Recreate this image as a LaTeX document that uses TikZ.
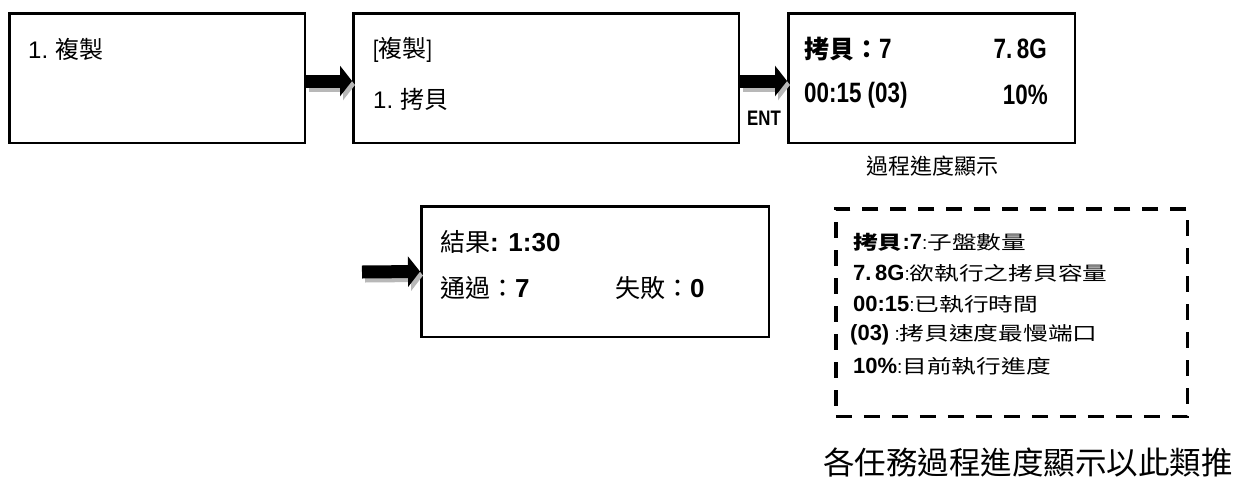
\documentclass[tikz,border=0pt]{standalone}
\usepackage{fontspec}
\usepackage{graphicx}
\setmainfont{Noto Sans CJK TC}
\newfontfamily\latn[FakeStretch=0.8]{Liberation Sans}
\newfontfamily\latr{Liberation Sans}
\newcommand\widecjk[1]{\scalebox{1.3}[1]{#1}}
\usetikzlibrary{arrows.meta,calc}
\tikzset{
  screen/.style={draw, line width=2.5pt, minimum height=129.5pt, inner sep=0pt},
  boxtxt/.style={anchor=west, inner sep=0pt, font=\fontsize{24}{24}\selectfont},
  boldtxt/.style={inner sep=0pt, font=\bfseries\fontsize{25}{25}\selectfont},
  notetxt/.style={anchor=west, inner sep=0pt, font=\fontsize{19}{19}\selectfont},
  dashbox/.style={draw, line width=3.5pt, dash pattern=on 16pt off 12pt, inner sep=0pt},
  bigarrow/.style={line width=13pt, -{Triangle[length=12pt,width=30pt]}},
  arrowshadow/.style={bigarrow, draw=black!28, transform canvas={shift={(3,4)}}},
}
\newcommand\nl[1]{{\latr\bfseries\fontsize{22}{22}\selectfont #1}}
\begin{document}
\begin{tikzpicture}[x=1pt,y=-1pt]
\useasboundingbox[fill=white] (0,0) rectangle (1235,477);

% screens
\node[screen, minimum width=295.5pt] (b1) at (157,78) {};
\node[screen, minimum width=385.5pt] (b2) at (546,78) {};
\node[screen, minimum width=286.5pt] (b3) at (931.5,78) {};
\node[screen, minimum width=347.5pt, minimum height=130.5pt] (b4) at (595,271.5) {};
\node[dashbox, minimum width=351.5pt, minimum height=207.5pt] (note) at (1011.5,312.5) {};

% arrows
\coordinate (a3s) at (362,272);
\draw[arrowshadow] ($(b1.east)+(0,3)$) -- ($(b2.west)+(0,3)$);
\draw[bigarrow] ($(b1.east)+(0,3)$) -- ($(b2.west)+(0,3)$);
\draw[arrowshadow] ($(b2.east)+(0,3)$) -- ($(b3.west)+(0,3)$);
\draw[bigarrow] ($(b2.east)+(0,3)$) -- ($(b3.west)+(0,3)$);
\draw[arrowshadow] (a3s) -- (b4.west);
\draw[bigarrow] (a3s) -- (b4.west);

% box texts
\node[boxtxt] (t1) at (28,49) {{\latr 1.} 複製};
\node[boxtxt] (t2) at (373,50) {{\latn [}複製{\latn ]}};
\node[boxtxt] (t3) at (373,99) {{\latr 1.} 拷貝};

\node[boldtxt, anchor=west] (t4) at (804,49) {拷貝：{\latn\fontsize{28}{28}\selectfont 7}};
\node[boldtxt, anchor=east] (t5) at (1047,49) {\latn\fontsize{28}{28}\selectfont 7.\,8G};
\node[boldtxt, anchor=west] (t6) at (804,95) {\latn\fontsize{28}{28}\selectfont 00:15 (03)};
\node[boldtxt, anchor=east] (t7) at (1048,95) {\latn\fontsize{28}{28}\selectfont 10\%};
\node[inner sep=0pt, font=\latn\bfseries\fontsize{21}{21}\selectfont] (ent) at (764,118) {ENT};
\node[inner sep=0pt, font=\fontsize{22}{22}\selectfont] (cap1) at (932,166) {過程進度顯示};

\node[boxtxt, font=\fontsize{25}{25}\selectfont] (t8) at (440,242) {結果{\latr\bfseries\fontsize{26}{26}\selectfont : 1:30}};
\node[boxtxt, font=\fontsize{25}{25}\selectfont] (t9) at (440,288) {通過：{\latr\bfseries\fontsize{26}{26}\selectfont 7}};
\node[boxtxt, font=\fontsize{25}{25}\selectfont] (t10) at (615,288) {失敗：{\latr\bfseries\fontsize{26}{26}\selectfont 0}};

% note texts
\node[notetxt] (d1) at (853,242) {\widecjk{\bfseries 拷貝}\nl{:7}{\latr :}\widecjk{子盤數量}};
\node[notetxt] (d2) at (853,273) {\nl{7.\,8G}{\latr :}\widecjk{欲執行之拷貝容量}};
\node[notetxt] (d3) at (853,304) {\nl{00:15}{\latr :}\widecjk{已執行時間}};
\node[notetxt] (d4) at (850,335) {\nl{(03)}{\latr\ :}\widecjk{拷貝速度最慢端口}};
\node[notetxt] (d5) at (853,366) {\nl{10\%}{\latr :}\widecjk{目前執行進度}};

\node[inner sep=0pt, font=\fontsize{31.5}{31.5}\selectfont] (foot) at (1028,462) {各任務過程進度顯示以此類推};
\end{tikzpicture}
\end{document}
